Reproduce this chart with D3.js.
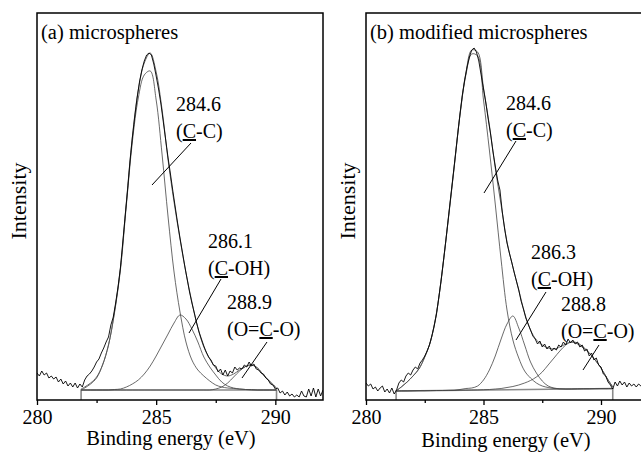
<!DOCTYPE html>
<html>
<head>
<meta charset="utf-8">
<script src="https://cdn.jsdelivr.net/npm/d3@7"></script>
<style>
body { margin: 0; background: #fff; }
svg text { font-family: "Liberation Serif", Tinos, "DejaVu Serif", "Times New Roman", Times, serif; fill: #000; }
</style>
</head>
<body>
<div id="graphicContainer"></div>
<script>

// binding energy ticks (eV)
var majorTicks = [280, 285, 290]
var minorTicks = [282.5, 287.5]

// raw spectra, 280.0 -> 292.0 eV every 0.1 eV (arbitrary intensity units)
var rawStart = 280
var rawStep = 0.1

var rawA = [
	27, 24, 29, 25, 27, 22, 24, 21, 23, 18,
	21, 16, 19, 14, 17, 13, 17, 12, 16, 13,
	20, 24, 26, 29, 33, 38, 41, 47, 52, 58,
	63, 75, 83, 97, 113, 132, 158, 184, 210, 238,
	262, 283, 302, 318, 330, 339, 345, 347, 345, 336,
	324, 311, 296, 278, 260, 242, 226, 209, 193, 177,
	162, 148, 134, 121, 108, 97, 87, 77, 68, 61,
	54, 48, 43, 40, 35, 34, 28, 31, 25, 30,
	24, 29, 27, 33, 30, 32, 31, 35, 33, 38,
	34, 36, 31, 30, 27, 26, 22, 20, 16, 15,
	11, 12, 7, 9, 5, 8, 4, 6, 3, 5,
	3, 9, 4, 3, 11, 4, 12, 3, 11, 4,
	10]

var rawB = [
	17, 14, 16, 11, 13, 9, 12, 14, 8, 11,
	7, 12, 6, 10, 17, 20, 18, 24, 27, 25,
	30, 33, 31, 37, 40, 44, 49, 55, 64, 74,
	86, 103, 120, 140, 160, 181, 202, 223, 244, 265,
	286, 305, 320, 333, 343, 350, 352, 348, 339, 325,
	311, 297, 281, 266, 249, 234, 220, 210, 188, 171,
	157, 147, 138, 128, 119, 110, 99, 91, 82, 76,
	70, 64, 61, 56, 59, 53, 56, 51, 54, 49,
	52, 50, 55, 53, 58, 55, 61, 57, 60, 56,
	58, 53, 55, 49, 51, 44, 47, 40, 42, 35,
	33, 26, 24, 18, 15, 11, 18, 14, 19, 15,
	18, 13, 17, 14, 16, 13, 16, 14, 15, 13,
	14]

// fitted curves, panel (a)
var energyA = [281.85, 282, 282.25, 282.5, 282.75, 283, 283.25, 283.5, 283.75, 284,
	284.25, 284.5, 284.75, 285, 285.25, 285.5, 285.75, 286, 286.25, 286.5,
	286.75, 287, 287.25, 287.5, 287.75, 288, 288.25, 288.5, 288.75, 289,
	289.25, 289.5, 289.75, 290, 290.05]
var ccA = [10, 12, 16, 22, 35, 55, 87, 130, 195, 258,
	302, 325, 329, 300, 245, 183, 128, 88, 58, 40,
	30, 24, 19, 15, 13, 12, 11.5, 11, 10.5, 10.5,
	10, 10, 10, 10, 10]
var cohA = [10, 10, 10, 10, 10, 10, 10.5, 11, 13, 16,
	20, 26, 34, 44, 55, 66, 77, 85, 81, 71,
	58, 43, 33, 25, 18, 14, 12, 11, 10.5, 10,
	10, 10, 10, 10, 10]
var ocoA = [10, 10, 10, 10, 10, 10, 10, 10, 10, 10,
	10, 10, 10, 10, 10, 10, 10, 10, 10, 10,
	10, 10, 10, 11, 13, 17, 23, 29, 33.5, 35,
	32, 25, 19, 13, 12]
var envA = [11, 13, 17, 23, 35, 55, 88, 132, 198, 263,
	310, 337, 347, 328, 290, 240, 198, 161, 127, 98,
	72, 53, 41, 32, 26, 24, 26, 30, 33.5, 35,
	32, 25, 19, 13, 12]
var bgEnergyA = [281.85, 281.85, 290.05, 290.05]
var bgA = [0, 10, 10, 0]

// fitted curves, panel (b)
var energyB = [281.28, 281.5, 281.75, 282, 282.25, 282.5, 282.75, 283, 283.25, 283.5,
	283.75, 284, 284.25, 284.5, 284.75, 285, 285.25, 285.5, 285.75, 286,
	286.25, 286.5, 286.75, 287, 287.25, 287.5, 287.75, 288, 288.25, 288.5,
	288.75, 289, 289.25, 289.5, 289.75, 290, 290.25, 290.5]
var ccB = [9, 13, 18, 24, 31, 43, 59, 87, 130, 180,
	232, 285, 325, 346, 344, 300, 250, 196, 140, 90,
	60, 42, 29, 22, 17, 14, 12.5, 11.5, 11.2, 11,
	11, 11.1, 11.2, 11.2, 11.3, 11.4, 11.4, 11.5]
var cohB = [9, 9.1, 9.1, 9.2, 9.3, 9.3, 9.4, 9.5, 9.5, 9.6,
	9.7, 10.5, 11.5, 12, 14, 20, 30, 44, 61, 76,
	84, 72, 55, 38, 27, 19, 14, 12, 11.2, 11,
	11, 11.1, 11.2, 11.2, 11.3, 11.4, 11.4, 11.5]
var ocoB = [9, 9.1, 9.1, 9.2, 9.3, 9.3, 9.4, 9.5, 9.5, 9.6,
	9.7, 9.8, 9.9, 10, 10.1, 10.3, 10.5, 11, 11.5, 12.5,
	13.5, 15, 17, 19.5, 23, 28, 35, 42, 49, 55,
	58, 57, 53, 47, 40, 32, 22, 13]
var envB = [9, 13, 18, 24, 31, 43, 59, 87, 130, 181,
	233, 286, 327, 350, 348, 312, 275, 232, 195, 158,
	133, 110, 87, 70, 60, 55, 52, 51, 53, 56,
	58, 56, 52, 47, 40, 32, 22, 13]
var bgEnergyB = [281.28, 281.28, 290.5, 290.5]
var bgB = [0, 9, 11.5, 0]

// peak labels
var peakPosA = ["284.6", "286.1", "288.9"]
var peakPosB = ["284.6", "286.3", "288.8"]
var peakGroups = [["(", "C", "-C)"], ["(", "C", "-OH)"], ["(O=", "C", "-O)"]]

var width = 641
var height = 452

var svg = d3.select("#graphicContainer").append("svg")
	.attr("width", width)
	.attr("height", height)

function drawPanel(p) {

	var w = p.width
	var h = 387

	var x = d3.scaleLinear().domain([280, 292]).range([0, w])
	var y = d3.scaleLinear().domain([0, 387]).range([h, 0])

	var g = svg.append("g").attr("transform", "translate(" + p.left + "," + p.top + ")")

	var clipId = "clip" + p.name
	g.append("clipPath").attr("id", clipId)
		.append("rect").attr("width", w).attr("height", h)

	var plot = g.append("g").attr("clip-path", "url(#" + clipId + ")")

	var line = d3.line()
		.x(d => x(d[0]))
		.y(d => y(d[1]))

	var smooth = d3.line()
		.x(d => x(d[0]))
		.y(d => y(d[1]))
		.curve(d3.curveCatmullRom.alpha(0.5))

	// background
	plot.append("path")
		.datum(p.bgEnergy.map((e, i) => [e, p.bg[i]]))
		.attr("d", line)
		.attr("fill", "none")
		.attr("stroke", "#8a8a8a")
		.attr("stroke-width", 1.6)

	// components
	p.components.forEach(function (c) {
		plot.append("path")
			.datum(p.energy.map((e, i) => [e, c[i]]))
			.attr("d", smooth)
			.attr("fill", "none")
			.attr("stroke", "#444")
			.attr("stroke-width", 0.8)
	})

	// envelope
	plot.append("path")
		.datum(p.energy.map((e, i) => [e, p.env[i]]))
		.attr("d", smooth)
		.attr("fill", "none")
		.attr("stroke", "#555")
		.attr("stroke-width", 0.9)

	// raw
	plot.append("path")
		.datum(p.raw.map((v, i) => [rawStart + i * rawStep, v]))
		.attr("d", line)
		.attr("fill", "none")
		.attr("stroke", "#000")
		.attr("stroke-width", 0.9)

	// axes
	var xAxis = d3.axisBottom(x)
		.tickValues(majorTicks)
		.tickSize(5)
		.tickPadding(5)
		.tickFormat(d3.format("d"))

	var xMinor = d3.axisBottom(x)
		.tickValues(minorTicks)
		.tickSize(3)
		.tickFormat("")

	var ax = g.append("g")
		.attr("transform", "translate(0," + h + ")")
		.call(xAxis)
	ax.attr("font-family", null)
	ax.selectAll("text").style("font-size", "20px")
	ax.selectAll("line").attr("stroke-width", 1.3)

	var axm = g.append("g")
		.attr("transform", "translate(0," + h + ")")
		.call(xMinor)
	axm.selectAll("line").attr("stroke-width", 1.3)

	g.selectAll(".domain").remove()

	g.append("rect")
		.attr("width", w)
		.attr("height", h)
		.attr("fill", "none")
		.attr("stroke", "#000")
		.attr("stroke-width", 1.5)

	// titles
	g.append("text")
		.attr("x", 4)
		.attr("y", 26)
		.style("font-size", "20.5px")
		.text(p.title)

	g.append("text")
		.attr("x", p.xTitleX)
		.attr("y", p.xTitleY)
		.attr("text-anchor", "middle")
		.style("font-size", "20.5px")
		.text("Binding energy (eV)")

	g.append("text")
		.attr("transform", "translate(-11,188) rotate(-90)")
		.attr("text-anchor", "middle")
		.style("font-size", "22px")
		.text("Intensity")

	// peak annotations
	p.labels.forEach(function (l, i) {
		g.append("text")
			.attr("x", l.x)
			.attr("y", l.y)
			.style("font-size", "20px")
			.text(p.peakPos[i])

		var t = g.append("text")
			.attr("x", l.x)
			.attr("y", l.y + 27)
			.style("font-size", "20px")

		peakGroups[i].forEach(function (s, j) {
			var ts = t.append("tspan").text(s)
			if (j === 1) ts.style("text-decoration", "underline")
		})

		g.append("line")
			.attr("x1", l.lx1).attr("y1", l.ly1)
			.attr("x2", l.lx2).attr("y2", l.ly2)
			.attr("stroke", "#000")
			.attr("stroke-width", 1)
	})
}

drawPanel({
	name: "a",
	left: 37, top: 13, width: 286,
	title: "(a) microspheres",
	raw: rawA, energy: energyA, env: envA,
	components: [ccA, cohA, ocoA],
	bgEnergy: bgEnergyA, bg: bgA,
	peakPos: peakPosA,
	xTitleX: 134, xTitleY: 432,
	labels: [
		{x: 139, y: 98, lx1: 154, ly1: 130, lx2: 115, ly2: 172},
		{x: 171, y: 235, lx1: 184, ly1: 266, lx2: 152, ly2: 320},
		{x: 190, y: 296, lx1: 230, ly1: 329, lx2: 205, ly2: 365}
	]
})

drawPanel({
	name: "b",
	left: 366, top: 13, width: 282,
	title: "(b) modified microspheres",
	raw: rawB, energy: energyB, env: envB,
	components: [ccB, cohB, ocoB],
	bgEnergy: bgEnergyB, bg: bgB,
	peakPos: peakPosB,
	xTitleX: 140, xTitleY: 434,
	labels: [
		{x: 140, y: 97, lx1: 150, ly1: 128, lx2: 118, ly2: 180},
		{x: 165, y: 246, lx1: 180, ly1: 279, lx2: 150, ly2: 327},
		{x: 195, y: 298, lx1: 233, ly1: 332, lx2: 217, ly2: 357}
	]
})

</script>
</body>
</html>
